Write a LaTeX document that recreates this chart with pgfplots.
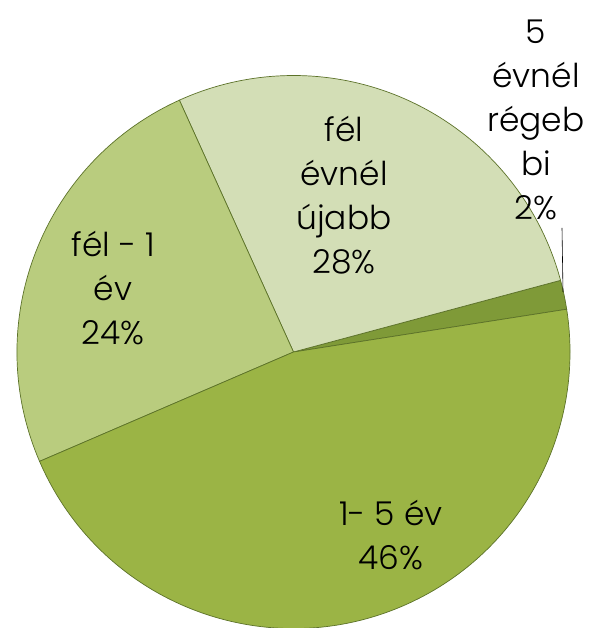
\documentclass[border=0pt]{standalone}
\usepackage{pgfplots}
\pgfplotsset{compat=1.18}
\usepackage{fontspec}
\setmainfont{Poppins Light}
\definecolor{cOld}{HTML}{7F9A38}
\definecolor{cMid}{HTML}{9BB445}
\definecolor{cHalf}{HTML}{B9CC7E}
\definecolor{cNew}{HTML}{D3DEB6}
\definecolor{edge}{HTML}{5C7229}
% slice values (percent), counter-clockwise from the start angle
\def\vOld{1.7}
\def\vNew{27.6}
\def\vHalf{24.7}
\def\vMid{46.0}
\def\startangle{8.9}
\pgfmathsetmacro{\aOld}{\startangle}
\pgfmathsetmacro{\aNew}{\aOld+\vOld*3.6}
\pgfmathsetmacro{\aHalf}{\aNew+\vNew*3.6}
\pgfmathsetmacro{\aMid}{\aHalf+\vHalf*3.6}
\def\cx{293.5}\def\cy{276}\def\R{276.5}
\newcommand\slice[3]{%
  \fill[#3, draw=edge, line width=0.7pt] (axis cs:\cx,\cy) -- ([shift={(#1:\R bp)}]axis cs:\cx,\cy)
    arc[start angle=#1, delta angle={#2*3.6}, radius=\R bp] -- cycle;}
\tikzset{lbl/.style={font=\fontsize{33}{44}\selectfont, align=center, text=black, inner sep=0pt}}
\begin{document}
\begin{tikzpicture}
\begin{axis}[
  at={(0,0)}, anchor=south west,
  scale only axis, width=593bp, height=628bp,
  xmin=0, xmax=593, ymin=0, ymax=628,
  hide axis, clip=false,
]
\slice{\aOld}{\vOld}{cOld}
\slice{\aNew}{\vNew}{cNew}
\slice{\aHalf}{\vHalf}{cHalf}
\slice{\aMid}{\vMid}{cMid}
\draw[black, line width=0.6pt] (axis cs:562,400) -- (axis cs:563,336);
\node[lbl] at (axis cs:344,433) {fél\\évnél\\újabb\\28\%};
\node[lbl] at (axis cs:113,340) {fél - 1\\év\\24\%};
\node[lbl] at (axis cs:391,93) {1- 5 év\\46\%};
\node[lbl] at (axis cs:536,508) {5\\évnél\\régeb\\bi\\2\%};
\end{axis}
\pgfresetboundingbox
\path[use as bounding box] (0,0) rectangle (593bp,628bp);
\end{tikzpicture}
\end{document}
